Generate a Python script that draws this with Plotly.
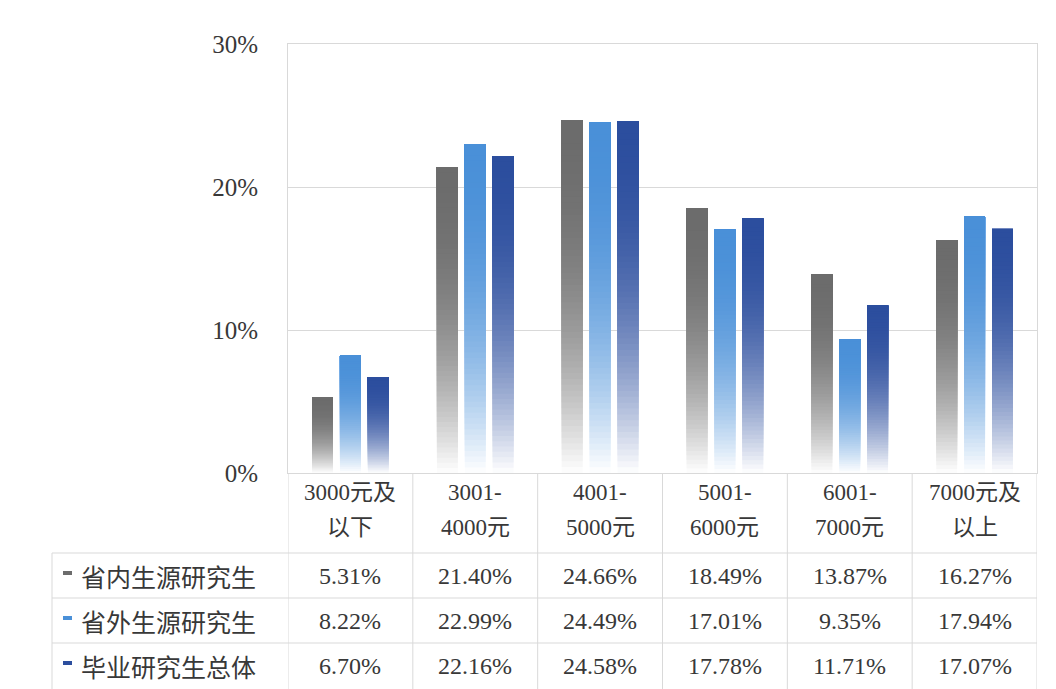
import plotly.graph_objects as go

# ---------------- data ----------------
categories = ["3000元及以下", "3001-4000元", "4001-5000元", "5001-6000元", "6001-7000元", "7000元及以上"]
label_line1 = ["3000元及", "3001-", "4001-", "5001-", "6001-", "7000元及"]
label_line2 = ["以下", "4000元", "5000元", "6000元", "7000元", "以上"]
series_names = ["省内生源研究生", "省外生源研究生", "毕业研究生总体"]
in_province = [5.31, 21.40, 24.66, 18.49, 13.87, 16.27]
out_province = [8.22, 22.99, 24.49, 17.01, 9.35, 17.94]
overall = [6.70, 22.16, 24.58, 17.78, 11.71, 17.07]
y_tick_values = [0, 10, 20, 30]
y_tick_labels = ["0%", "10%", "20%", "30%"]

series_values = [in_province, out_province, overall]
series_colors = [(108, 108, 108), (74, 144, 216), (44, 78, 158)]

# ---------------- layout geometry (page pixels; page has an 8px body margin) ----------------
OFF = 8
W, H = 1056, 689
PL, PR, PT, PB = 288 - OFF, 1037 - OFF, 44 - OFF, 473 - OFF  # plot area in figure coords
TABLE_LEFT = 52 - OFF
ROW_LINES = [553 - OFF, 598 - OFF, 643 - OFF]
ROW_CENTERS = [576 - OFF, 621 - OFF, 666 - OFF]
HEAD_LINE1, HEAD_LINE2 = 492 - OFF, 527 - OFF
BOTTOM = H

def py(ypx):
    return (PB - ypx) / (PB - PT)

def px(xpx):
    return (xpx - PL) / (PR - PL)

TEXT_COLOR = "#383838"
GRID = "#d9d9d9"
SERIF = "Liberation Serif, Noto Sans CJK SC"
CJK = "Noto Sans CJK SC, Liberation Serif"

N_SEG = 60

def blend(c, t):
    f = 1.0 - (1.0 - t) ** 2.2
    return "rgb(%d,%d,%d)" % tuple(round(255 + (ci - 255) * f) for ci in c)

fig = go.Figure()
for s, (vals, col) in enumerate(zip(series_values, series_colors)):
    for i in range(N_SEG):
        t = (i + 0.5) / N_SEG
        color = blend(col, t)
        # each layer spans from its gradient start up to the bar top; later layers cover earlier ones
        fig.add_trace(go.Bar(
            x=categories,
            y=[v * (N_SEG - i) / N_SEG for v in vals],
            base=[v * i / N_SEG for v in vals],
            offsetgroup=str(s),
            marker=dict(color=color, line=dict(width=0)),
            showlegend=False,
            hoverinfo="skip",
        ))

shapes = []
# vertical table lines
for k in range(len(categories) + 1):
    xb = k - 0.5
    shapes.append(dict(type="line", xref="x", yref="paper", x0=xb, x1=xb,
                       y0=py(PB), y1=py(BOTTOM + 2), line=dict(color=GRID, width=1)))
# table left border
shapes.append(dict(type="line", xref="paper", yref="paper", x0=px(TABLE_LEFT), x1=px(TABLE_LEFT),
                   y0=py(ROW_LINES[0]), y1=py(BOTTOM + 2), line=dict(color=GRID, width=1)))
# horizontal row lines
for yl in ROW_LINES:
    shapes.append(dict(type="line", xref="paper", yref="paper", x0=px(TABLE_LEFT), x1=1,
                       y0=py(yl), y1=py(yl), line=dict(color=GRID, width=1)))
# legend keys
for r, col in enumerate(series_colors):
    yc = ROW_CENTERS[r] - 3
    shapes.append(dict(type="rect", xref="paper", yref="paper",
                       x0=px(63 - OFF), x1=px(72 - OFF), y0=py(yc - 2), y1=py(yc + 2),
                       fillcolor="rgb(%d,%d,%d)" % col, line=dict(width=0)))

annotations = []
for c, (l1, l2) in enumerate(zip(label_line1, label_line2)):
    for txt, yp in ((l1, HEAD_LINE1), (l2, HEAD_LINE2)):
        annotations.append(dict(x=categories[c], y=py(yp), xref="x", yref="paper",
                                text=txt, showarrow=False, xanchor="center", yanchor="middle",
                                font=dict(family=SERIF, size=23, color=TEXT_COLOR)))
for r, (name, vals) in enumerate(zip(series_names, series_values)):
    annotations.append(dict(x=px(79 - OFF), y=py(ROW_CENTERS[r]), xref="paper", yref="paper",
                            text=name, showarrow=False, xanchor="left", yanchor="middle",
                            font=dict(family=CJK, size=25, color=TEXT_COLOR)))
    for c, v in enumerate(vals):
        annotations.append(dict(x=categories[c], y=py(ROW_CENTERS[r]), xref="x", yref="paper",
                                text="%.2f%%" % v, showarrow=False, xanchor="center", yanchor="middle",
                                font=dict(family=SERIF, size=24, color=TEXT_COLOR)))

fig.update_layout(
    width=W, height=H,
    margin=dict(l=PL, r=W - PR, t=PT, b=H - PB, pad=0),
    paper_bgcolor="white", plot_bgcolor="white",
    barmode="group", bargap=0.33, bargroupgap=0.25,
    showlegend=False,
    shapes=shapes, annotations=annotations,
    xaxis=dict(type="category", showticklabels=False, ticks="", showgrid=False,
               showline=True, linecolor=GRID, linewidth=1, mirror=True,
               range=[-0.5, len(categories) - 0.5]),
    yaxis=dict(range=[0, 30], tickvals=y_tick_values, ticktext=y_tick_labels,
               showgrid=True, gridcolor=GRID, gridwidth=1, zeroline=False,
               showline=True, linecolor=GRID, linewidth=1, mirror=True,
               ticks="", ticklabelstandoff=24,
               tickfont=dict(family=SERIF, size=25, color=TEXT_COLOR)),
)

fig.write_html("out.html")
